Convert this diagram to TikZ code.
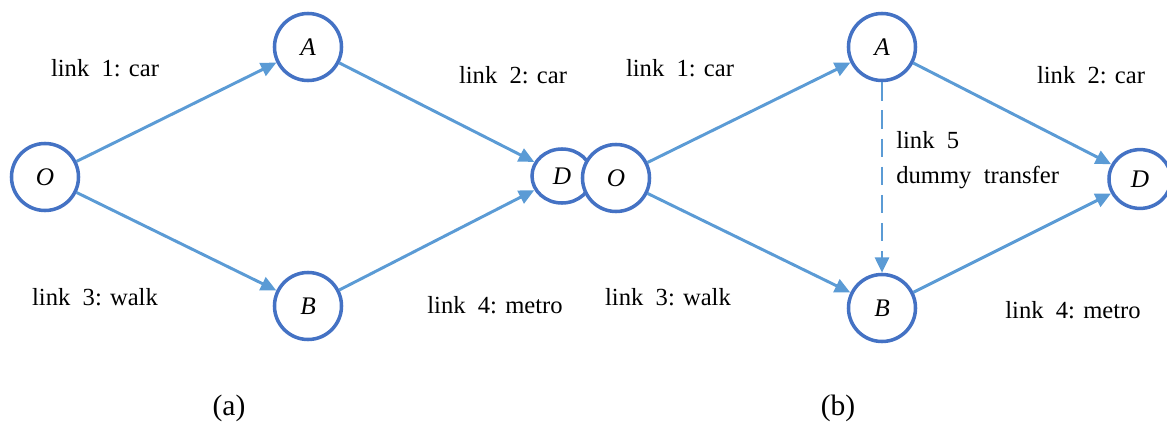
\documentclass[tikz,border=0pt]{standalone}
\usepackage{fontspec}
\setmainfont{Liberation Serif}
\usetikzlibrary{arrows.meta,shapes.geometric}
\definecolor{nodeblue}{RGB}{68,114,196}
\definecolor{linkblue}{RGB}{91,155,213}

\begin{document}
\begin{tikzpicture}[x=0.025cm,y=-0.025cm,
    vertex/.style={circle,draw=nodeblue,line width=2.5pt,fill=white,
        minimum size=1.675cm,inner sep=0pt,font=\rmfamily\fontsize{18}{20}\selectfont\itshape},
    dest/.style={vertex,ellipse,minimum width=1.5cm,minimum height=1.35cm},
    link/.style={draw=linkblue,line width=2.1pt,-{Triangle[length=11pt,width=10pt]}},
    lbl/.style={font=\rmfamily\fontsize{17.5}{24.8}\selectfont,inner sep=0pt},
    subcap/.style={font=\rmfamily\fontsize{21}{24}\selectfont,inner sep=0pt}]
    \useasboundingbox (0,0) rectangle (1167,422);

    % network (a)
    \node[vertex] (Oa) at (45,177) {O};
    \node[vertex] (Aa) at (308,47) {A};
    \node[vertex] (Ba) at (308,306) {B};
    \node[dest]   (Da) at (562,176) {D};

    % network (b)
    \node[vertex] (Ob) at (616,178) {O};
    \node[vertex] (Ab) at (882,47) {A};
    \node[vertex] (Bb) at (882,308) {B};
    \node[dest,minimum width=1.55cm,minimum height=1.47cm] (Db) at (1140,179) {D};

    \draw [link] (Oa) -- (Aa);
    \draw [link] (Aa) -- (Da);
    \draw [link] (Oa) -- (Ba);
    \draw [link] (Ba) -- (Da);

    \draw [link] (Ob) -- (Ab);
    \draw [link] (Ab) -- (Db);
    \draw [link] (Ob) -- (Bb);
    \draw [link] (Bb) -- (Db);
    \draw [link,dash pattern=on 13pt off 7pt] (Ab) -- (Bb);

    % link labels
    \node[lbl] (l1a) at (105,68) {link\ \ 1: car};
    \node[lbl] (l2a) at (513,75) {link\ \ 2: car};
    \node[lbl] (l3a) at (95,297) {link\ \ 3: walk};
    \node[lbl] (l4a) at (495,305) {link\ \ 4: metro};

    \node[lbl] (l1b) at (680,68) {link\ \ 1: car};
    \node[lbl] (l2b) at (1091,75) {link\ \ 2: car};
    \node[lbl] (l3b) at (668,297) {link\ \ 3: walk};
    \node[lbl] (l4b) at (1073,310) {link\ \ 4: metro};
    \node[lbl,anchor=west,align=left] (l5b) at (896,160) {link\ \ 5\\dummy\ \ transfer};

    \node[subcap] (capa) at (229,408) {(a)};
    \node[subcap] (capb) at (838,408) {(b)};
\end{tikzpicture}
\end{document}
